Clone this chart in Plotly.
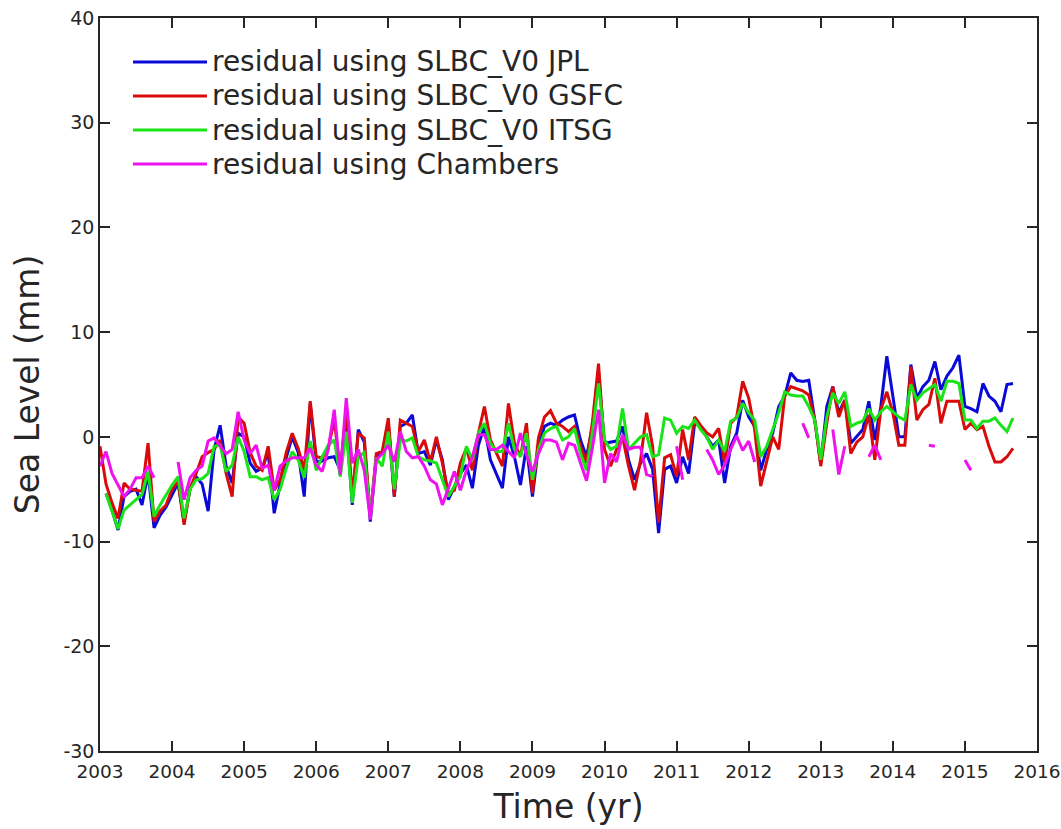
import numpy as np
import plotly.graph_objects as go

nan = np.nan

# monthly samples starting January 2003
n_months = 153
time_yr = [2003 + i / 12 for i in range(n_months)]

jpl = [
    nan, -5.4, -7.0, -8.9, -5.7, -5.2, -5.0, -6.5, -3.5, -8.7, -7.5, -6.7,
    -5.5, -4.4, -8.1, -4.9, -3.8, -4.5, -7.1, -1.2, 1.1, -2.8, -4.4, 0.35,
    0.0, -2.5, -3.3, -3.0, -1.5, -7.3, -4.5, -2.0, 0.0, -1.5, -5.7, 3.2,
    -2.4, -2.3, -2.0, -1.9, -3.2, 1.5, -6.5, 0.7, -0.5, -8.1, -1.9, -1.5,
    1.3, -5.7, 1.0, 1.3, 2.1, -1.6, -1.4, -2.7, -0.3, -2.2, -6.0, -4.7,
    -3.5, -2.7, -4.9, -0.8, 1.0, -2.2, -3.5, -4.9, 0.0, -1.9, -4.6, -0.9,
    -5.7, -0.9, 1.0, 1.3, 1.1, 1.6, 1.9, 2.1, -0.3, -1.9, 1.0, 6.0,
    -0.6, -0.5, -0.4, 1.0, -2.2, -4.1, -2.5, -1.6, -3.1, -9.2, -3.1, -2.8,
    -4.4, -1.9, -3.5, 1.3, 1.0, 0.0, -0.9, -0.3, -4.4, -0.9, 0.35, 3.5,
    1.9, 1.0, -3.2, -1.2, 0.35, 2.9, 3.9, 6.1, 5.4, 5.3, 5.4, 1.6,
    -2.5, 2.9, 4.8, 2.3, 3.5, -0.6, 0.0, 0.7, 3.4, -0.3, 2.9, 7.7,
    3.9, 0.0, 0.0, 6.9, 3.7, 4.8, 5.4, 7.2, 4.5, 5.8, 6.6, 7.8,
    2.9, 2.7, 2.4, 5.1, 3.9, 3.4, 2.4, 5.0, 5.1,
]

gsfc = [
    -0.9, -4.5, -6.3, -7.8, -4.4, -5.0, -5.1, -5.2, -0.6, -8.1, -7.1, -6.5,
    -5.0, -4.3, -8.4, -4.9, -3.5, -1.9, -1.5, -1.2, -0.3, -3.5, -5.7, 1.9,
    1.3, -1.5, -2.8, -3.2, -0.9, -5.1, -4.1, -1.5, 0.35, -1.1, -3.2, 3.4,
    -1.9, -2.0, -1.1, 1.6, -3.2, 2.6, -5.7, 0.35, -0.1, -7.6, -1.6, -1.4,
    1.8, -5.7, 1.6, 1.3, 1.0, -1.4, -0.3, -2.4, 0.0, -2.5, -5.4, -5.1,
    -2.5, -1.1, -3.2, 0.35, 2.9, -0.3, -1.6, -2.8, 3.2, -0.6, -1.9, 1.3,
    -5.4, -0.1, 1.9, 2.5, 1.3, 1.0, 0.5, 1.0, -0.9, -2.5, 1.5, 7.0,
    -1.2, -2.8, -1.2, 0.0, -2.8, -5.1, -2.2, 2.3, -0.9, -8.2, -2.0, -1.7,
    -3.8, 0.7, -2.2, 1.9, 1.1, 0.4, 0.0, 0.8, -2.5, 1.3, 1.9, 5.3,
    3.7, 0.7, -4.7, -2.2, 0.0, -1.2, 3.9, 4.8, 4.6, 4.4, 4.0, 1.6,
    -2.8, 1.3, 4.8, 1.9, 3.5, -1.6, -0.5, 0.0, 2.1, -2.2, 2.6, 4.3,
    2.3, -0.8, -0.8, 6.7, 1.6, 2.6, 3.1, 5.6, 1.3, 3.4, 3.4, 3.4,
    0.7, 1.3, 0.7, 1.0, -0.9, -2.4, -2.4, -1.9, -1.1,
]

itsg = [
    nan, -5.4, -7.0, -8.8, -7.0, -6.5, -6.0, -5.5, -3.3, -7.6, -6.5, -5.5,
    -4.6, -3.8, -7.8, -5.0, -4.1, -4.0, -3.5, -0.9, -0.8, -3.3, -2.7, 0.0,
    -1.4, -3.8, -3.8, -4.1, -3.9, -6.0, -5.0, -3.0, -1.4, -2.2, -3.9, -0.4,
    -3.2, -1.9, -0.8, -0.3, -3.8, 0.5, -6.3, -1.9, -1.5, -7.6, -2.0, -2.8,
    0.5, -5.0, -0.3, -0.4, -0.1, -1.9, -2.2, -2.3, -2.5, -4.1, -5.7, -4.7,
    -3.8, -0.9, -2.2, 0.35, 1.3, -0.6, -1.4, -1.4, 1.3, -1.2, -1.9, 0.35,
    -4.1, -1.2, 0.35, 0.8, 1.0, -0.3, 0.0, 0.8, -1.6, -3.2, 0.5, 5.1,
    -0.3, -1.2, -0.9, 2.7, -1.2, -0.6, 0.0, 0.2, -1.9, -1.7, 1.8, 1.6,
    0.35, 1.0, 0.8, 1.6, 0.7, 0.0, -1.2, -0.3, -1.4, 1.5, 1.8, 3.2,
    2.3, 1.6, -1.9, -0.9, 0.7, 2.3, 4.3, 4.0, 3.9, 3.9, 2.9, 1.6,
    -2.2, 1.9, 4.2, 3.2, 4.3, 1.0, 1.3, 1.5, 2.7, 1.6, 2.4, 2.9,
    2.4, 1.9, 1.6, 5.0, 3.5, 4.2, 4.6, 5.0, 3.4, 5.3, 5.3, 5.1,
    1.6, 1.6, 0.8, 1.5, 1.5, 1.8, 1.1, 0.5, 1.8,
]

chambers = [
    -2.8, -1.4, -3.5, -4.6, -5.7, -5.0, -3.9, -3.9, -2.8, -3.9, nan, nan,
    nan, -2.4, -6.0, -3.9, -3.2, -2.8, -0.4, -0.1, -0.9, -1.6, -1.2, 2.4,
    -0.3, -1.6, -0.8, -3.0, -2.7, -5.1, -2.8, -2.3, -2.0, -2.0, -2.0, -1.1,
    -2.7, -3.3, -1.2, 2.6, -3.6, 3.7, -2.5, -1.2, -3.2, -7.9, -2.2, -1.6,
    -0.8, -2.4, 0.5, -1.4, -2.0, -1.9, -2.8, -4.1, -4.5, -6.5, -4.9, -3.3,
    -5.1, -3.2, -1.9, 0.2, 0.2, -1.2, -1.2, -0.8, -1.4, -2.0, 0.35, -1.7,
    -3.3, -1.6, -0.3, -0.3, -0.5, -2.2, -0.6, -0.8, -2.5, -4.2, -1.0, 2.6,
    -4.4, -1.6, -2.4, 0.2, -1.2, -1.0, -1.0, -3.6, -3.8, nan, nan, nan,
    -0.9, -4.1, nan, nan, nan, -1.2, -2.2, -3.6, -2.7, -1.2, 0.1, -1.3,
    -0.4, -2.4, nan, nan, nan, nan, nan, nan, nan, 1.3, -0.1, nan,
    nan, nan, 0.7, -3.6, -0.9, nan, nan, nan, -1.9, -0.8, -2.2, nan,
    nan, nan, nan, nan, nan, nan, -0.8, -0.9, nan, nan, nan, nan,
    -2.2, -3.2, nan, nan, nan, nan, nan, nan, nan,
]

series_names = [
    "residual using SLBC_V0 JPL",
    "residual using SLBC_V0 GSFC",
    "residual using SLBC_V0 ITSG",
    "residual using Chambers",
]
series_values = [jpl, gsfc, itsg, chambers]
series_colors = ["#0a0ad8", "#d80a0a", "#18e418", "#ee12ee"]

x_ticks = list(range(2003, 2017))
y_ticks = list(range(-30, 41, 10))
y_ticklabels = [str(v) for v in y_ticks]

ink = "#262626"
font_family = "DejaVu Sans, Verdana, sans-serif"

fig = go.Figure()
for name, vals, col in zip(series_names, series_values, series_colors):
    fig.add_trace(go.Scatter(
        x=time_yr, y=vals, mode="lines", name=name,
        line=dict(color=col, width=3), connectgaps=False,
        showlegend=False,
    ))

# legend drawn as line samples plus labels in the upper-left corner
W, H = 1061, 829
ml, mr, mt, mb = 100, 24, 18, 78
pw, ph = W - ml - mr, H - mt - mb
row_y = [62, 96, 130, 164]
for name, col, py in zip(series_names, series_colors, row_y):
    yp = (H - mb - py) / ph
    fig.add_shape(type="line", xref="paper", yref="paper",
                  x0=(133 - ml) / pw, x1=(207 - ml) / pw, y0=yp, y1=yp,
                  line=dict(color=col, width=3))
    fig.add_annotation(xref="paper", yref="paper", x=(210 - ml) / pw, y=yp,
                       text=name, showarrow=False, xanchor="left", yanchor="middle",
                       font=dict(family=font_family, size=28, color=ink))

axis_common = dict(
    showgrid=False, zeroline=False, showline=True, mirror="ticks",
    linecolor=ink, linewidth=1.5, ticks="inside", ticklen=10, tickwidth=1.5,
    tickcolor=ink, ticklabeloverflow="allow",
)

fig.update_layout(
    width=W, height=H,
    margin=dict(l=ml, r=mr, t=mt, b=mb, autoexpand=False),
    paper_bgcolor="white", plot_bgcolor="white",
    font=dict(family=font_family, color=ink),
    showlegend=False,
    xaxis=dict(range=[2003, 2016], tickvals=x_ticks,
               tickfont=dict(family=font_family, size=18.5, color=ink),
               ticklabelstandoff=3,
               title=dict(text="Time (yr)", font=dict(size=33, color=ink), standoff=14),
               **axis_common),
    yaxis=dict(range=[-30, 40], tickvals=y_ticks, ticktext=y_ticklabels,
               tickfont=dict(family=font_family, size=19, color=ink),
               title=dict(text="Sea Level (mm)", font=dict(size=33, color=ink), standoff=14),
               **axis_common),
)

fig.write_html("out.html")
